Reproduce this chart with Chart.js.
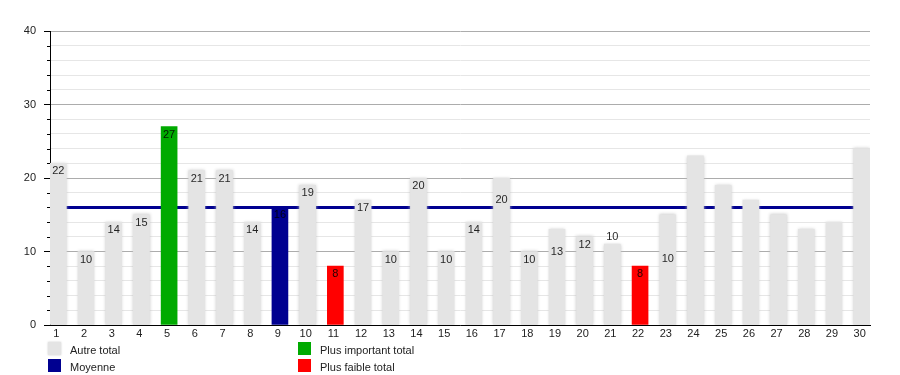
<!DOCTYPE html>
<html><head><meta charset="utf-8">
<script src="https://cdn.jsdelivr.net/npm/chart.js@4/dist/chart.umd.min.js"></script>
<style>
html,body{margin:0;padding:0;background:#fff;}
#wrap{position:relative;width:900px;height:375px;}
#legend{position:absolute;left:48px;top:342px;width:700px;height:33px;font:11px 'Liberation Sans',Arial,sans-serif;color:#222;}
.item{position:absolute;height:13px;line-height:13px;white-space:nowrap}
.sw{position:absolute;left:0;top:0;width:13px;height:13px}
.tx{position:absolute;left:22px;top:2px}
</style></head><body>
<div id="wrap"><canvas id="c" width="900" height="375"></canvas><div id="legend"></div></div>
<script>
// ---- data ----
const days = [1,2,3,4,5,6,7,8,9,10,11,12,13,14,15,16,17,18,19,20,21,22,23,24,25,26,27,28,29,30];
const totals = [22,10,14,15,27,21,21,14,16,19,8,17,10,20,10,14,20,10,13,12,11,8,15,23,19,17,15,13,14,24];
const kinds = ['autre','autre','autre','autre','max','autre','autre','autre','moy','autre',
               'min','autre','autre','autre','autre','autre','autre','autre','autre','autre',
               'autre','min','autre','autre','autre','autre','autre','autre','autre','autre'];
const barLabels = ['22','10','14','15','27','21','21','14','16','19','8','17','10','20','10',
                   '14','20','10','13','12','10','8','10','','','','','','',''];
// value (in data units) where an off-place label sits; null = at bar top
const labelAt = [null,null,null,null,null,null,null,null,null,null,null,null,null,null,null,
                 null,17,null,9.9,null,12,null,9,null,null,null,null,null,null,null];
const moyenne = 16;
const yMajor = [0,10,20,30,40];
const seriesNames = ['Autre total','Moyenne','Plus important total','Plus faible total'];
const seriesKinds = ['autre','moy','max','min'];
const seriesColors = ['#e4e4e4','#000090','#00aa00','#ff0000'];

const FONT = "'Liberation Sans', Arial, sans-serif";

const datasets = seriesKinds.map((k,i)=>({
  label: seriesNames[i],
  data: days.map((d,j)=>({x:d, y: kinds[j]===k ? totals[j] : null})),
  backgroundColor: seriesColors[i],
  borderWidth: 0,
  barThickness: 16,
  grouped: false,
  order: i
}));

const plugin = {
  id: 'extras',
  beforeDatasetsDraw(chart){
    const {ctx, chartArea:a, scales:{y}} = chart;
    const py = y.getPixelForValue(moyenne);
    ctx.save();
    ctx.strokeStyle = seriesColors[1];
    ctx.lineWidth = 3;
    ctx.beginPath(); ctx.moveTo(a.left, py); ctx.lineTo(a.right, py); ctx.stroke();
    // minor ticks
    ctx.strokeStyle = '#000'; ctx.lineWidth = 1;
    for (let v = 2; v < 40; v += 2) {
      if (v % 10 === 0) continue;
      const ty = Math.round(y.getPixelForValue(v)) + 0.5;
      ctx.beginPath(); ctx.moveTo(a.left - 3, ty); ctx.lineTo(a.left, ty); ctx.stroke();
    }
    ctx.restore();
  },
  beforeDatasetDraw(chart, args){
    if (args.index === 0) {
      chart.ctx.save();
      chart.ctx.shadowColor = 'rgba(200,200,200,0.9)';
      chart.ctx.shadowBlur = 3;
    }
  },
  afterDatasetDraw(chart, args){
    if (args.index === 0) chart.ctx.restore();
  },
  afterDatasetsDraw(chart){
    const {ctx, scales:{x,y}} = chart;
    ctx.save();
    ctx.font = '11px ' + FONT;
    ctx.fillStyle = 'rgba(0,0,0,0.85)';
    ctx.textAlign = 'center'; ctx.textBaseline = 'middle';
    days.forEach((d,i)=>{
      if (!barLabels[i]) return;
      const px = x.getPixelForValue(d);
      const py = labelAt[i] != null ? y.getPixelForValue(labelAt[i]) : y.getPixelForValue(totals[i]) + 8;
      ctx.fillText(barLabels[i], px, py);
    });
    ctx.restore();
  }
};

new Chart(document.getElementById('c'), {
  type: 'bar',
  data: { datasets },
  options: {
    responsive: false, animation: false, devicePixelRatio: 1,
    layout: { padding: { top: 31, right: 30, left: 0, bottom: 0 } },
    plugins: { legend: {display:false}, tooltip: {enabled:false} },
    scales: {
      x: {
        type: 'linear', min: 0.7, max: 30.3, offset: false,
        afterBuildTicks(s){ s.ticks = days.map(d=>({value:d})); },
        afterFit(s){ s.height = 50; },
        grid: { display: false, drawTicks: false },
        border: { display: true, color: '#000', width: 1 },
        ticks: { color: '#222', font: {family: FONT, size: 11}, padding: 2, labelOffset: -2, maxRotation: 0, autoSkip: false,
                 callback: v => String(v) }
      },
      y: {
        min: 0, max: 40,
        afterBuildTicks(s){ const t=[]; for(let v=0; v<=40; v+=2) t.push({value:v}); s.ticks = t; },
        afterFit(s){ s.width = 50; },
        grid: {
          color: c => (c.tick && c.tick.value % 10 === 0) ? '#acacac' : '#e6e6e6',
          tickColor: c => (c.tick && c.tick.value % 10 === 0) ? '#000' : 'rgba(0,0,0,0)',
          tickLength: 6, lineWidth: 1
        },
        border: { display: true, color: '#000', width: 1 },
        ticks: { color: '#222', font: {family: FONT, size: 11}, padding: 8, autoSkip: false,
                 callback: v => yMajor.includes(v) ? String(v) : '' }
      }
    }
  },
  plugins: [plugin]
});

// legend (2 columns)
const leg = document.getElementById('legend');
const order = [0,2,1,3];
const pos = [[0,0],[250,0],[0,17],[250,17]];
order.forEach((si,k)=>{
  const it = document.createElement('div');
  it.className = 'item';
  it.style.left = pos[k][0]+'px'; it.style.top = pos[k][1]+'px';
  const sw = document.createElement('span'); sw.className='sw'; sw.style.background = seriesColors[si];
  if (si===0) sw.style.boxShadow = '0 0 2px #ccc';
  const tx = document.createElement('span'); tx.className='tx'; tx.textContent = seriesNames[si];
  it.appendChild(sw); it.appendChild(tx); leg.appendChild(it);
});
</script>
</body></html>
